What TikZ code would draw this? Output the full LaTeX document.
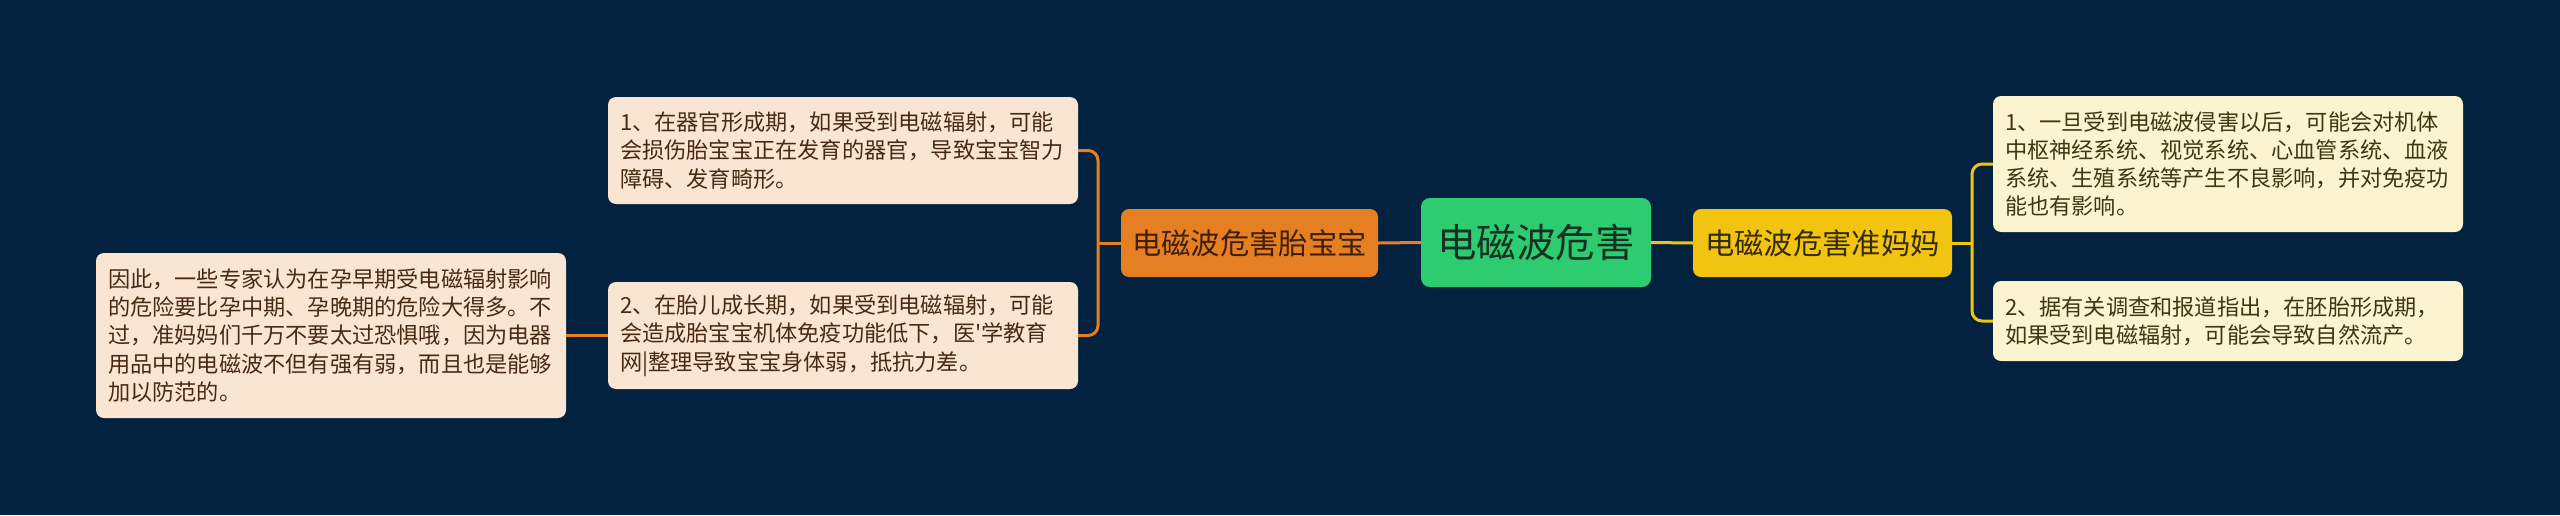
\documentclass[tikz,border=0pt]{standalone}
\usepackage{fontspec}
\newfontfamily\cjkfont{Noto Sans CJK SC}
\definecolor{bg}{RGB}{3,34,63}
\definecolor{corange}{RGB}{230,126,34}
\definecolor{cgreen}{RGB}{46,204,113}
\definecolor{cyellow}{RGB}{241,196,15}
\definecolor{lfill}{RGB}{250,229,211}
\definecolor{rfill}{RGB}{252,243,207}
\definecolor{ltext}{RGB}{72,42,18}
\definecolor{rtext}{RGB}{62,56,16}
\definecolor{ctext}{RGB}{22,48,34}
\definecolor{otext}{RGB}{62,32,10}
\definecolor{ytext}{RGB}{52,42,6}
\tikzset{
  leafbox/.style={rounded corners=8pt, inner xsep=12pt, inner ysep=0pt, text width=446pt, align=left,
    font=\cjkfont\fontsize{22.2pt}{28.3pt}\selectfont, minimum width=470pt},
  lleaf/.style={leafbox, fill=lfill, text=ltext},
  rleaf/.style={leafbox, fill=rfill, text=rtext},
  subbox/.style={rounded corners=8pt, inner sep=0pt, minimum height=68pt, font=\cjkfont\fontsize{29.3pt}{33pt}\selectfont},
  rootbox/.style={rounded corners=9pt, inner sep=0pt, fill=cgreen, text=ctext, minimum width=230pt, minimum height=89pt, font=\cjkfont\fontsize{39.5pt}{44pt}\selectfont},
  oline/.style={draw=corange, line width=3pt},
  yline/.style={draw=cyellow, line width=3pt}
}
\begin{document}
\begin{tikzpicture}[x=1pt,y=-1pt]
\fill[bg] (0,0) rectangle (2560,515);
\useasboundingbox (0,0) rectangle (2560,515);
% nodes
\node[rootbox] (c) at (1536,242.5) {电磁波危害};
\node[subbox, fill=corange, text=otext, minimum width=257pt] (ob) at (1249.5,243) {电磁波危害胎宝宝};
\node[subbox, fill=cyellow, text=ytext, minimum width=259pt] (yb) at (1822.5,243) {电磁波危害准妈妈};
\node[lleaf, minimum height=107pt] (a1) at (843,150.5) {1、在器官形成期，如果受到电磁辐射，可能\\会损伤胎宝宝正在发育的器官，导致宝宝智力\\障碍、发育畸形。};
\node[lleaf, minimum height=107pt] (a2) at (843,335.5) {2、在胎儿成长期，如果受到电磁辐射，可能\\会造成胎宝宝机体免疫功能低下，医'学教育\\网|整理导致宝宝身体弱，抵抗力差。};
\node[lleaf, minimum height=165pt] (l) at (331,335.5) {因此，一些专家认为在孕早期受电磁辐射影响\\的危险要比孕中期、孕晚期的危险大得多。不\\过，准妈妈们千万不要太过恐惧哦，因为电器\\用品中的电磁波不但有强有弱，而且也是能够\\加以防范的。};
\node[rleaf, minimum height=136pt] (r1) at (2228,164) {1、一旦受到电磁波侵害以后，可能会对机体\\中枢神经系统、视觉系统、心血管系统、血液\\系统、生殖系统等产生不良影响，并对免疫功\\能也有影响。};
\node[rleaf, minimum height=80pt] (r2) at (2228,321) {2、据有关调查和报道指出，在胚胎形成期，\\如果受到电磁辐射，可能会导致自然流产。};
% junctions
\coordinate (oj) at (1098,243);
\coordinate (yj) at (1972,243);
% connectors
\draw[oline] (c.west) -- (ob.east);
\draw[yline] (c.east) -- (yb.west);
\draw[oline] (ob.west) -- (oj);
\draw[oline, rounded corners=10pt] (a1.east) -| (oj) |- (a2.east);
\draw[oline] (a2.west) -- (l.east);
\draw[yline] (yb.east) -- (yj);
\draw[yline, rounded corners=10pt] (r1.west) -| (yj) |- (r2.west);
\end{tikzpicture}
\end{document}
